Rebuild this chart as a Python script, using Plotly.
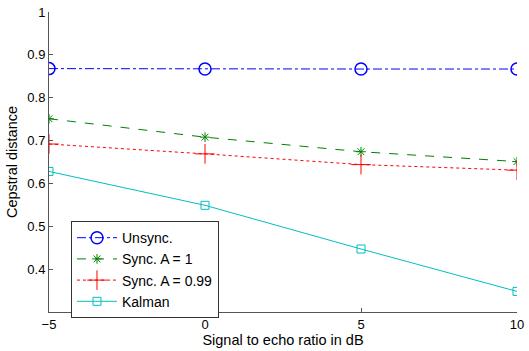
import plotly.graph_objects as go

snr_db = [-5, 0, 5, 10]
unsync = [0.868, 0.867, 0.867, 0.867]
sync_a1 = [0.751, 0.708, 0.674, 0.651]
sync_a099 = [0.692, 0.669, 0.644, 0.631]
kalman = [0.628, 0.549, 0.447, 0.348]

y_ticks = [0.4, 0.5, 0.6, 0.7, 0.8, 0.9, 1]
y_tick_labels = ["0.4", "0.5", "0.6", "0.7", "0.8", "0.9", "1"]
x_ticks = [-5, 0, 5, 10]

font = "Liberation Sans, Arial, sans-serif"

fig = go.Figure()
fig.add_trace(go.Scatter(x=snr_db, y=unsync, name="Unsync.", mode="lines+markers",
                         line=dict(color="#0000ff", width=1, dash="dashdot"),
                         marker=dict(symbol="circle-open", size=12, color="#0000ff", line=dict(width=1.5))))
fig.add_trace(go.Scatter(x=snr_db, y=sync_a1, name="Sync. A = 1", mode="lines+markers",
                         line=dict(color="#008000", width=1, dash="dash"),
                         marker=dict(symbol="asterisk-open", size=8, color="#008000", line=dict(width=1, color="#008000"))))
fig.add_trace(go.Scatter(x=snr_db, y=sync_a099, name="Sync. A = 0.99", mode="lines+markers",
                         line=dict(color="#ff0000", width=1, dash="dot"),
                         marker=dict(symbol="cross-thin-open", size=14, color="#ff0000", line=dict(width=1, color="#ff0000"))))
fig.add_trace(go.Scatter(x=snr_db, y=kalman, name="Kalman", mode="lines+markers",
                         line=dict(color="#00bfbf", width=1, dash="solid"),
                         marker=dict(symbol="square-open", size=8, color="#00bfbf", line=dict(width=1))))

fig.update_layout(
    width=529, height=351,
    margin=dict(l=49, r=9, t=5, b=37),
    paper_bgcolor="white", plot_bgcolor="white",
    font=dict(family=font, size=13, color="#000000"),
    showlegend=True,
    legend=dict(x=0.047, y=0.303, xanchor="left", yanchor="top",
                bgcolor="white", bordercolor="#333333", borderwidth=1,
                font=dict(size=14), tracegroupgap=0, itemwidth=40),
    xaxis=dict(range=[-5, 10], tickvals=x_ticks, showline=True, linecolor="#555555",
               linewidth=1, ticks="inside", ticklen=4, tickcolor="#555555",
               showgrid=False, zeroline=False, ticklabeloverflow="allow",
               title=dict(text="Signal to echo ratio in dB", font=dict(size=14.5), standoff=4)),
    yaxis=dict(range=[0.3, 1.0001], tickvals=y_ticks, ticktext=y_tick_labels, showline=True,
               linecolor="#555555", linewidth=1, ticks="inside", ticklen=4, tickcolor="#555555",
               showgrid=False, zeroline=False, ticklabeloverflow="allow",
               title=dict(text="Cepstral distance", font=dict(size=14.5), standoff=6)),
)

fig.write_html("out.html", config={"displayModeBar": False},
               post_script="document.body.style.margin='0';document.body.style.padding='0';")
